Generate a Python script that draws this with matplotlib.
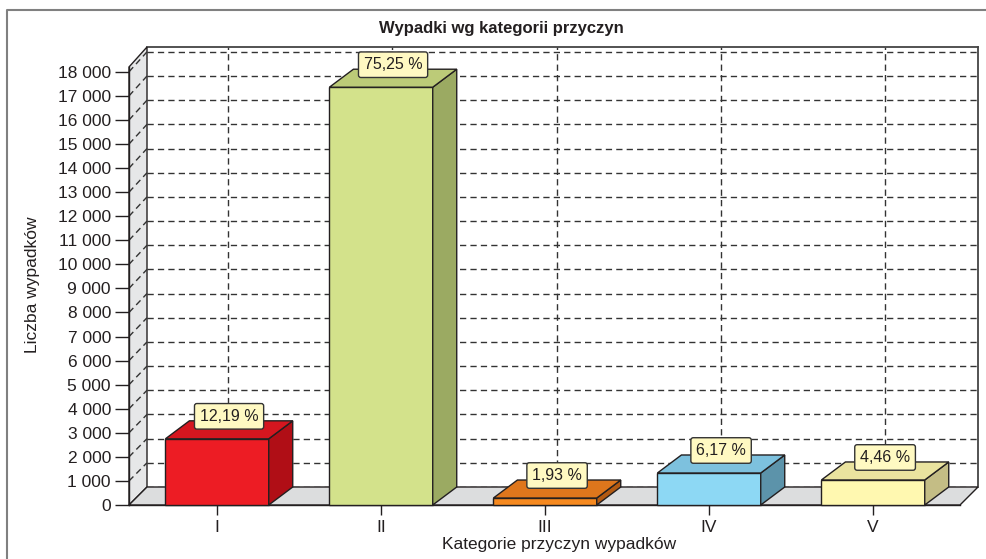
"""3D-style bar chart: accidents by cause category."""
import matplotlib
matplotlib.use('Agg')
import matplotlib.pyplot as plt
from matplotlib.patches import Polygon, Rectangle
from matplotlib.lines import Line2D
from matplotlib.ticker import FuncFormatter

categories = ['I', 'II', 'III', 'IV', 'V']
counts = [2750, 17360, 290, 1330, 1040]
shares = ['12,19 %', '75,25 %', '1,93 %', '6,17 %', '4,46 %']
front_cols = ['#ED1C24', '#D3E28B', '#F6891F', '#8DD8F4', '#FFF8B0']
top_cols = ['#D5161F', '#BCCB78', '#DE761C', '#7DC1DE', '#EAE39F']
side_cols = ['#B00E16', '#9BAA62', '#B35A12', '#5C93AA', '#C4BD85']

W, H = 987, 559
plt.rcParams['font.family'] = ['Liberation Sans', 'DejaVu Sans']
INK = '#231F20'
fig = plt.figure(figsize=(W / 100, H / 100), dpi=100)

def fr(x0, y0, x1, y1):
    # pixel box (top-left origin) -> figure fraction rect
    return [x0 / W, (H - y1) / H, (x1 - x0) / W, (y1 - y0) / H]

YMAX = 18200
back = fig.add_axes(fr(147, 47, 978, 487))
front = fig.add_axes(fr(129, 67, 960, 505))
for a in (back, front):
    a.set_ylim(0, YMAX)
back.set_xlim(-0.493, 4.566)
front.set_xlim(-0.537, 4.53)
front.patch.set_alpha(0)
front.set_zorder(2)

# back wall with dashed grid
dash = (0, (4.5, 3))
for v in range(0, 18001, 1000):
    back.axhline(v, color='#333333', lw=1, ls=dash, zorder=1)
for i in range(len(categories)):
    back.axvline(i, color='#333333', lw=1, ls=dash, zorder=1)
back.set_xticks([]); back.set_yticks([])
for s in ('left', 'bottom'):
    back.spines[s].set_visible(False)
for s in ('top', 'right'):
    back.spines[s].set_color('#444444')
    back.spines[s].set_linewidth(1.3)

fig.canvas.draw()
tf = fig.transFigure.inverted()

def to_fig(ax, pts, dx=0, dy=0):
    d = ax.transData.transform(pts)
    d[:, 0] += dx
    d[:, 1] += dy
    return tf.transform(d)

fx0, fx1 = front.get_xlim()
bx0, bx1 = back.get_xlim()

# left wall and floor
wall = list(to_fig(front, [(fx0, 0), (fx0, YMAX)])) + list(to_fig(back, [(bx0, YMAX), (bx0, 0)]))
fig.add_artist(Polygon(wall, closed=True, transform=fig.transFigure,
                       facecolor='#E6E7E8', edgecolor=INK, lw=1, zorder=1.5))
floor = list(to_fig(front, [(fx0, 0), (fx1, 0)])) + list(to_fig(back, [(bx1, 0), (bx0, 0)]))
fig.add_artist(Polygon(floor, closed=True, transform=fig.transFigure,
                       facecolor='#DCDDDE', edgecolor=INK, lw=1, zorder=1.6))
for v in range(1000, 18001, 1000):
    p = list(to_fig(front, [(fx0, v)])) + list(to_fig(back, [(bx0, v)]))
    fig.add_artist(Line2D([p[0][0], p[1][0]], [p[0][1], p[1][1]], transform=fig.transFigure,
                          color='#333333', lw=1, ls=dash, zorder=1.7))

# bars
DX, DY, BW = 24, 18, 0.63
for i, (h, fc, tc, sc) in enumerate(zip(counts, front_cols, top_cols, side_cols)):
    l, r = i - BW / 2, i + BW / 2
    top = list(to_fig(front, [(l, h), (r, h)])) + list(to_fig(front, [(r, h), (l, h)], DX, DY))
    side = list(to_fig(front, [(r, 0), (r, h)])) + list(to_fig(front, [(r, h), (r, 0)], DX, DY))
    for poly, c in ((side, sc), (top, tc)):
        fig.add_artist(Polygon(poly, closed=True, transform=fig.transFigure,
                               facecolor=c, edgecolor=INK, lw=1, zorder=3))
    front.add_patch(Rectangle((l, 0), BW, h, facecolor=fc, edgecolor=INK, lw=1,
                              zorder=4, clip_on=False))
    lp = to_fig(front, [(i, h)], DX / 2, DY / 2 + 6)[0]
    fig.text(lp[0], lp[1], shares[i], ha='center', va='bottom', fontsize=11.5,
             color=INK, family=['Liberation Sans Narrow', 'Liberation Sans', 'DejaVu Sans'],
             zorder=6,
             bbox=dict(boxstyle='round,pad=0.33,rounding_size=0.15', facecolor='#FFF9C2',
                       edgecolor='#333333', lw=1))

# front axes: ticks and spines
front.spines['top'].set_visible(False)
front.spines['right'].set_visible(False)
for s in ('left', 'bottom'):
    front.spines[s].set_color(INK)
    front.spines[s].set_linewidth(1)
front.set_yticks(range(0, 18001, 1000))
front.yaxis.set_major_formatter(FuncFormatter(lambda v, p: f'{int(v):,}'.replace(',', ' ')))
front.set_xticks(range(len(categories)))
front.set_xticklabels(categories)
front.tick_params(axis='y', direction='out', length=10, width=1, color=INK,
                  labelsize=12.5, labelcolor=INK, pad=3)
front.tick_params(axis='x', direction='out', length=7, width=1, color=INK,
                  labelsize=12.5, labelcolor=INK, pad=4)

fig.text(501 / W, 1 - 28 / H, 'Wypadki wg kategorii przyczyn', ha='center', va='center',
         fontsize=12, fontweight='bold', color=INK)
fig.text(559 / W, 1 - 545 / H, 'Kategorie przyczyn wypadków', ha='center', va='center',
         fontsize=12.5, color=INK)
fig.text(33 / W, 1 - 285 / H, 'Liczba wypadków', ha='center', va='center',
         rotation=90, fontsize=12.5, color=INK)

# outer frame (left and top edges only visible)
fig.add_artist(Line2D([7 / W, 7 / W, 1], [0, 1 - 10 / H, 1 - 10 / H],
                      transform=fig.transFigure, color='#808080', lw=1.5))

fig.savefig('out.png', dpi=100)
